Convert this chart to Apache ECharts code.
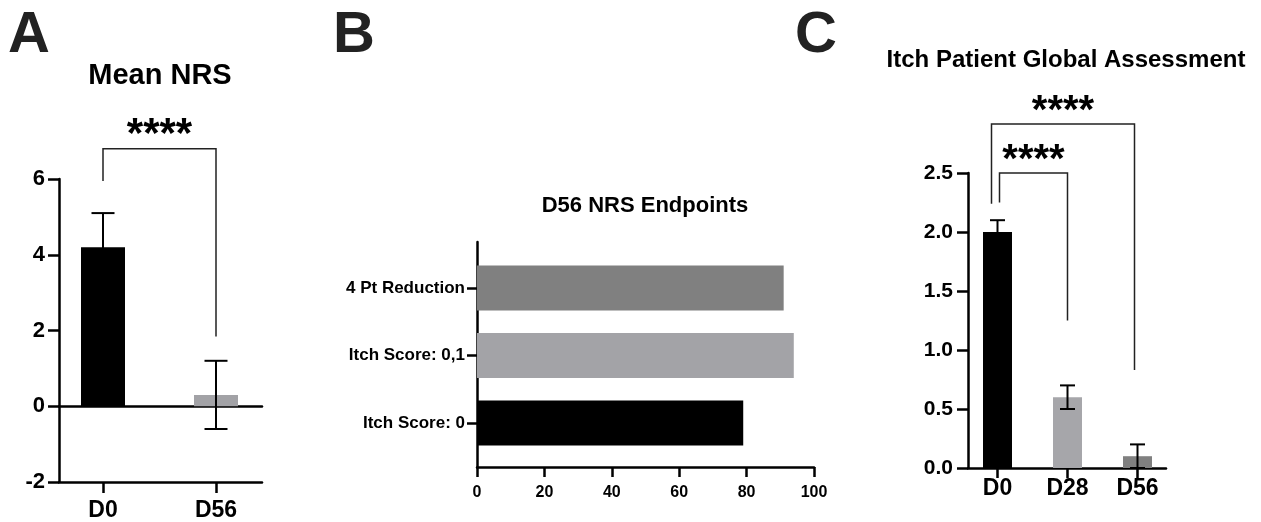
<!DOCTYPE html>
<html><head><meta charset="utf-8">
<script src="https://cdn.jsdelivr.net/npm/echarts@6/dist/echarts.min.js"></script>
<style>html,body{margin:0;padding:0;background:#fff}#c{width:1261px;height:522px}</style>
</head><body><div id="c"></div>
<script>
// ---------- Panel A: Mean NRS ----------
const catsA = ['D0', 'D56'];
const meanA = [4.2, 0.3];
const errA = [0.9, 0.9];
const ticksA = [-2, 0, 2, 4, 6];
// [fromIndex, toIndex, topValue, leftFootValue, rightFootValue]
const bracketsA = [[0, 1, 6.8, 5.95, 1.84]];

// ---------- Panel B: D56 NRS Endpoints ----------
const catsB = ['Itch Score: 0', 'Itch Score: 0,1', '4 Pt Reduction'];
const valsB = [79, 94, 91];
const ticksB = [0, 20, 40, 60, 80, 100];

// ---------- Panel C: Itch Patient Global Assessment ----------
const catsC = ['D0', 'D28', 'D56'];
const meanC = [2.0, 0.6, 0.1];
const errC = [0.1, 0.1, 0.1];
const ticksC = [0, 0.5, 1.0, 1.5, 2.0, 2.5];
const bracketsC = [[0, 2, 2.915, 2.24, 0.83], [0, 1, 2.5, 2.25, 1.25]];

const starText = '****';

// ---------- styles ----------
const FONT = '"Liberation Sans", Arial, Helvetica, sans-serif';
const colorsA = ['#000000', '#a2a2a6'];
const colorsB = ['#000000', '#a3a3a7', '#808080'];
const colorsC = ['#000000', '#a6a6aa', '#808080'];
const bracketOffsetsA = [[0, 0]];
const bracketOffsetsC = [[-6, -3], [2, 0]];
const AX = { color: '#000', width: 2.5 };

function lineOnlyAxis(extra) {
  return Object.assign({
    axisLine: { show: true, onZero: false, lineStyle: AX },
    axisTick: { show: false }, axisLabel: { show: false }, splitLine: { show: false }
  }, extra);
}
function hiddenAxis(extra) {
  return Object.assign({ show: false, splitLine: { show: false } }, extra);
}
function errRender(capHalf) {
  return function (params, api) {
    const x = api.value(0), lo = api.value(1), hi = api.value(2);
    const pLo = api.coord([x, lo]), pHi = api.coord([x, hi]);
    const s = { stroke: '#000', lineWidth: 2 };
    return { type: 'group', children: [
      { type: 'line', shape: { x1: pLo[0], y1: pLo[1], x2: pHi[0], y2: pHi[1] }, style: s },
      { type: 'line', shape: { x1: pHi[0] - capHalf, y1: pHi[1], x2: pHi[0] + capHalf, y2: pHi[1] }, style: s },
      { type: 'line', shape: { x1: pLo[0] - capHalf, y1: pLo[1], x2: pLo[0] + capHalf, y2: pLo[1] }, style: s }
    ] };
  };
}
function bracketRender(offsets, starGap, fontSize) {
  return function (params, api) {
    const off = offsets[params.dataIndex] || [0, 0];
    const a = api.value(0), b = api.value(1), top = api.value(2), lf = api.value(3), rf = api.value(4);
    const p1 = api.coord([a, lf]), p2 = api.coord([a, top]), p3 = api.coord([b, top]), p4 = api.coord([b, rf]);
    const xl = p1[0] + off[0], xr = p3[0] + off[1];
    return { type: 'group', children: [
      { type: 'polyline', shape: { points: [[xl, p1[1]], [xl, p2[1]], [xr, p3[1]], [xr, p4[1]]] },
        style: { stroke: '#222', lineWidth: 1.5, fill: null } },
      { type: 'text', x: (xl + xr) / 2, y: p2[1] - starGap,
        style: { text: starText, fill: '#000', font: 'bold ' + fontSize + 'px ' + FONT, textAlign: 'center', textVerticalAlign: 'middle' } }
    ] };
  };
}
function errData(means, errs) { return means.map((m, i) => [i, m - errs[i], m + errs[i]]); }
function barData(vals, colors) { return vals.map((v, i) => ({ value: v, itemStyle: { color: colors[i] } })); }
const lblStyle = (size, margin) => ({ show: true, color: '#000', fontFamily: FONT, fontWeight: 'bold', fontSize: size, margin: margin });
const bigLetter = { fontFamily: FONT, fontWeight: 'bold', fontSize: 58, color: '#222', lineHeight: 58 };

const option = {
  animation: false,
  backgroundColor: '#fff',
  title: [
    { text: 'A', left: 8, top: 7, padding: 0, textStyle: bigLetter },
    { text: 'B', left: 333, top: 7, padding: 0, textStyle: bigLetter },
    { text: 'C', left: 795, top: 7, padding: 0, textStyle: bigLetter },
    { text: 'Mean NRS', left: 160, textAlign: 'center', top: 61, padding: 0, textStyle: { fontFamily: FONT, fontWeight: 'bold', fontSize: 29, color: '#000', lineHeight: 29 } },
    { text: 'D56 NRS Endpoints', left: 645, textAlign: 'center', top: 195, padding: 0, textStyle: { fontFamily: FONT, fontWeight: 'bold', fontSize: 22, color: '#000', lineHeight: 22 } },
    { text: 'Itch Patient Global Assessment', left: 1066, textAlign: 'center', top: 48, padding: 0, textStyle: { fontFamily: FONT, fontWeight: 'bold', fontSize: 24, color: '#000', lineHeight: 24 } }
  ],
  grid: [
    { left: 59, top: 179, width: 203, height: 303 },      // 0 A frame
    { left: 46.5, top: 179, width: 226, height: 303 },    // 1 A bars
    { left: 477, top: 242, width: 337, height: 225 },     // 2 B frame
    { left: 477, top: 254.25, width: 337, height: 202.5 },// 3 B bars
    { left: 968, top: 173, width: 198, height: 295 },     // 4 C frame
    { left: 962.5, top: 173, width: 210, height: 295 }    // 5 C bars
  ],
  xAxis: [
    lineOnlyAxis({ gridIndex: 0, type: 'value', min: 0, max: 1, position: 'bottom' }),
    lineOnlyAxis({ gridIndex: 0, type: 'value', min: 0, max: 1, position: 'top', axisLine: { show: true, onZero: true, onZeroAxisIndex: 0, lineStyle: AX } }),
    { gridIndex: 1, type: 'category', data: catsA, position: 'bottom',
      axisLine: { show: false, onZero: false }, axisTick: { show: true, alignWithLabel: true, length: 11, lineStyle: AX },
      axisLabel: lblStyle(23, 17), splitLine: { show: false } },
    { gridIndex: 2, type: 'value', min: ticksB[0], max: ticksB[ticksB.length - 1], interval: ticksB[1] - ticksB[0],
      axisLine: { show: true, onZero: false, lineStyle: AX }, axisTick: { show: true, length: 10, lineStyle: AX },
      axisLabel: lblStyle(16, 18), splitLine: { show: false } },
    hiddenAxis({ gridIndex: 3, type: 'value', min: ticksB[0], max: ticksB[ticksB.length - 1] }),
    lineOnlyAxis({ gridIndex: 4, type: 'value', min: 0, max: 1 }),
    { gridIndex: 5, type: 'category', data: catsC, position: 'bottom',
      axisLine: { show: false, onZero: false }, axisTick: { show: true, alignWithLabel: true, length: 10, lineStyle: AX },
      axisLabel: lblStyle(23, 9), splitLine: { show: false } }
  ],
  yAxis: [
    { gridIndex: 0, type: 'value', min: ticksA[0], max: ticksA[ticksA.length - 1], interval: ticksA[1] - ticksA[0],
      axisLine: { show: true, onZero: false, lineStyle: AX }, axisTick: { show: true, length: 11, lineStyle: AX },
      axisLabel: lblStyle(22, 14), splitLine: { show: false } },
    hiddenAxis({ gridIndex: 1, type: 'value', min: ticksA[0], max: ticksA[ticksA.length - 1] }),
    lineOnlyAxis({ gridIndex: 2, type: 'value', min: 0, max: 1 }),
    { gridIndex: 3, type: 'category', data: catsB,
      axisLine: { show: false, onZero: false }, axisTick: { show: true, alignWithLabel: true, length: 10, lineStyle: AX },
      axisLabel: lblStyle(17, 12), splitLine: { show: false } },
    { gridIndex: 4, type: 'value', min: ticksC[0], max: ticksC[ticksC.length - 1], interval: ticksC[1] - ticksC[0],
      axisLine: { show: true, onZero: false, lineStyle: AX }, axisTick: { show: true, length: 11, lineStyle: AX },
      axisLabel: Object.assign(lblStyle(21, 15), { formatter: v => v.toFixed(1) }), splitLine: { show: false } },
    hiddenAxis({ gridIndex: 5, type: 'value', min: ticksC[0], max: ticksC[ticksC.length - 1] })
  ],
  series: [
    { type: 'bar', xAxisIndex: 2, yAxisIndex: 1, data: barData(meanA, colorsA), barWidth: 44, z: 2 },
    { type: 'custom', xAxisIndex: 2, yAxisIndex: 1, data: errData(meanA, errA), renderItem: errRender(11.5), z: 5, clip: false },
    { type: 'custom', xAxisIndex: 2, yAxisIndex: 1, data: bracketsA, renderItem: bracketRender(bracketOffsetsA, 13.5, 42), z: 5, clip: false },

    { type: 'bar', xAxisIndex: 4, yAxisIndex: 3, data: barData(valsB, colorsB), barWidth: 45, z: 2 },

    { type: 'bar', xAxisIndex: 6, yAxisIndex: 5, data: barData(meanC, colorsC), barWidth: 29, z: 2 },
    { type: 'custom', xAxisIndex: 6, yAxisIndex: 5, data: errData(meanC, errC), renderItem: errRender(7.5), z: 5, clip: false },
    { type: 'custom', xAxisIndex: 6, yAxisIndex: 5, data: bracketsC, renderItem: bracketRender(bracketOffsetsC, 12.5, 40), z: 5, clip: false }
  ]
};
const chart = echarts.init(document.getElementById('c'), null, { renderer: 'canvas' });
chart.setOption(option);
</script>
</body></html>
